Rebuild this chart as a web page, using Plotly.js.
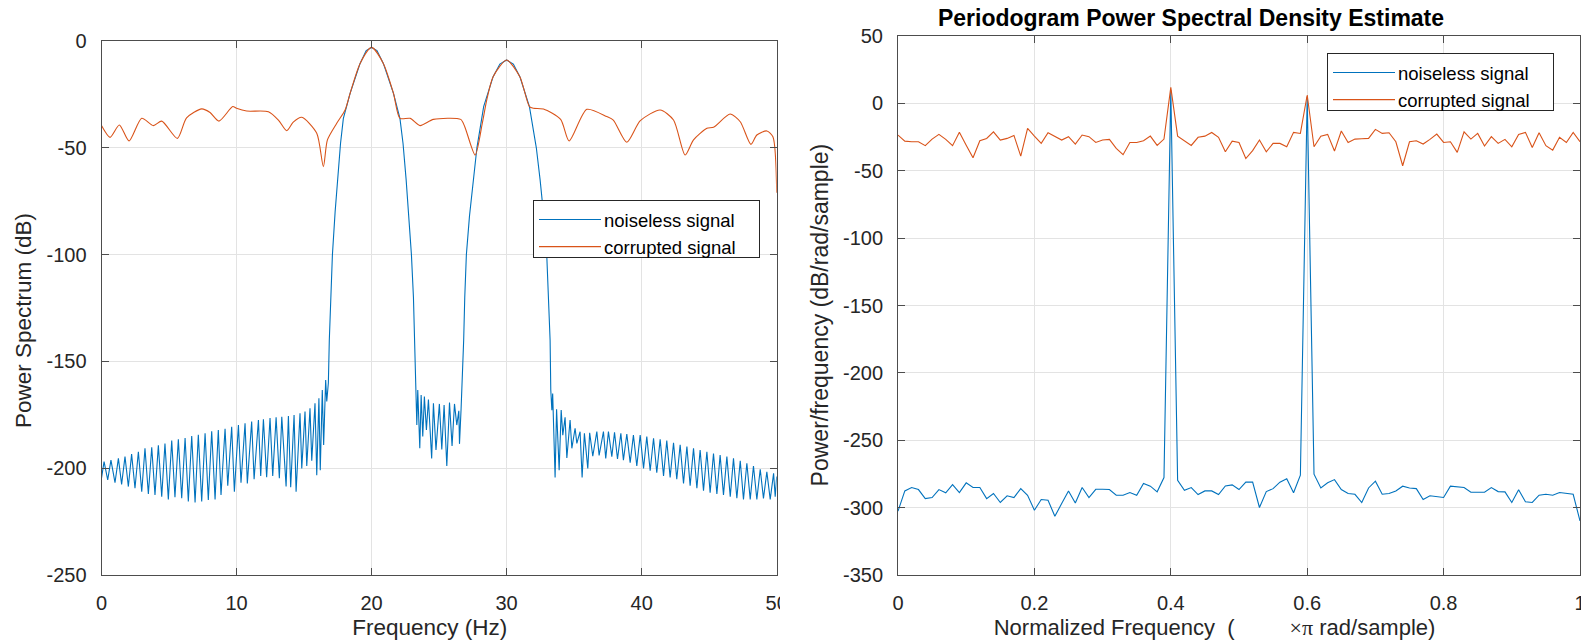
<!DOCTYPE html>
<html><head><meta charset="utf-8">
<script src="https://cdn.plot.ly/plotly-3.0.1.min.js"></script>
<style>html,body{margin:0;padding:0;background:#fff;}#chart{width:1581px;height:643px;}</style>
</head><body><div id="chart"></div>
<script>
// ---- Left panel: power spectrum (dB) vs frequency (Hz) ----
const spectrumFreqHz = [0.00,0.19,0.46,0.70,1.00,1.25,1.49,1.74,1.99,2.23,2.48,2.73,2.98,3.22,3.47,3.72,3.96,4.21,4.46,4.70,4.95,5.20,5.44,5.69,5.94,6.19,6.43,6.68,6.93,7.17,7.42,7.67,7.91,8.16,8.41,8.65,8.85,9.15,9.35,9.64,9.84,10.14,10.33,10.63,10.80,11.12,11.30,11.62,11.79,11.99,12.23,12.48,12.68,12.93,13.17,13.35,13.67,13.84,14.01,14.26,14.41,14.70,14.83,15.07,15.20,15.44,15.57,15.81,15.94,16.10,16.20,16.35,16.45,16.60,16.68,
16.80,16.87,16.96,17.1,17.3,17.47,17.7,17.91,18.41,19.15,19.6,20.0,20.4,20.87,21.62,22.1,22.33,22.56,22.75,22.95,23.1,23.18,23.22,
23.35,23.42,23.57,23.67,23.79,23.91,24.06,24.21,24.45,24.58,24.77,25.02,25.20,25.37,25.57,25.77,25.96,26.14,26.31,26.46,26.51,26.63,26.70,
26.82,26.9,27.02,27.25,27.55,27.8,28.3,29.0,29.5,30.0,30.5,30.98,31.69,32.2,32.48,32.75,32.97,33.12,33.22,33.27,
33.35,33.41,33.59,33.70,33.89,34.04,34.16,34.33,34.46,34.70,34.83,35.07,35.20,35.44,35.59,35.76,36.01,36.15,36.38,36.68,36.85,37.17,37.34,37.54,37.79,37.99,38.21,38.46,38.65,38.90,39.15,39.39,39.64,39.89,40.14,40.38,40.63,40.88,41.12,41.37,41.62,41.86,42.11,42.36,42.60,42.85,43.10,43.35,43.59,43.84,44.09,44.33,44.58,44.83,45.07,45.32,45.57,45.81,46.06,46.31,46.56,46.80,47.05,47.30,47.54,47.79,48.04,48.28,48.53,48.78,49.02,49.27,49.52,49.77,49.89,50.00];
const noiselessDb = [-204.7,-196.9,-205.5,-196.2,-206.8,-195.4,-207.6,-194.6,-208.6,-193.4,-209.4,-192.3,-211.0,-190.7,-212.1,-190.2,-212.5,-189.3,-213.3,-188.4,-214.6,-187.1,-213.6,-186.5,-214.1,-185.9,-215.6,-184.9,-216.1,-184.3,-215.6,-183.7,-214.9,-182.7,-214.6,-182.1,-212.5,-181.5,-208.2,-180.6,-211.0,-179.8,-206.8,-179.0,-207.1,-178.2,-205.2,-177.4,-203.6,-177.1,-204.2,-176.5,-203.6,-176.2,-204.7,-175.9,-208.6,-175.6,-208.9,-175.1,-211.0,-174.3,-200.1,-173.5,-199.0,-172.0,-196.5,-169.6,-203.3,-167.3,-200.9,-163.4,-189.1,-158.7,-168.8,
-160,-140,-120,-100,-80,-65,-48,-36.2,-24.5,-10.5,-4.5,-3.0,-4.5,-10.5,-24.5,-36.2,-48,-65,-80,-100,-120,-140,-157.9,
-179.8,-163.4,-190.7,-165.7,-185.2,-166.5,-182.1,-167.8,-195.4,-169.6,-191.5,-169.9,-191.2,-170.4,-199.0,-169.3,-189.6,-169.9,-179.8,-173.1,-188.6,-172.0,-162.6,
-140,-120,-100,-82,-65,-50,-30.7,-16.7,-10.8,-8.9,-10.8,-16.7,-30.7,-50,-65,-82,-100,-120,-140,-163.4,
-172.8,-165.0,-204.3,-172.4,-200.9,-172.8,-184.5,-176.2,-195.2,-177.4,-190.7,-181.3,-188.4,-182.9,-204.3,-183.7,-200.1,-183.4,-194.4,-182.9,-194.0,-182.9,-195.4,-182.9,-194.6,-183.2,-195.7,-183.7,-196.2,-184.0,-197.4,-184.5,-199.0,-184.5,-200.1,-185.2,-201.2,-186.0,-202.1,-186.5,-203.6,-187.1,-204.3,-188.1,-205.2,-189.1,-207.1,-189.9,-208.2,-190.7,-209.4,-191.5,-210.5,-192.3,-211.5,-193.1,-212.1,-193.9,-212.5,-194.6,-213.3,-195.4,-214.1,-196.5,-214.6,-197.7,-214.6,-199.0,-214.6,-200.5,-214.1,-201.7,-214.6,-202.4,-213.3,-203.9];

const corruptedFreqHz = [0,0.63,1.32,2.04,2.98,3.84,4.46,5.62,6.3,7.42,8.04,8.7,9.72,10.0,10.75,12.36,13.1,13.72,14.2,14.83,15.94,16.43,16.73,17.42,18.04,18.41,19.15,20.0,20.87,21.62,22.1,22.85,23.59,24.58,26.6,26.9,27.67,28.2,28.53,29.0,30.0,30.98,31.69,31.99,32.73,34.0,34.63,35.94,37.42,37.9,38.9,39.9,41.37,42.36,43.22,43.84,44.83,45.32,46.55,47.3,48.09,48.53,49.27,49.72,50.0];
const corruptedDb = [-39.6,-45.1,-39.3,-46.8,-36.2,-39.6,-37.5,-45.6,-36.0,-31.8,-33.5,-37.5,-30.7,-31.5,-32.8,-33.1,-37.0,-42.0,-38.0,-35.7,-43.2,-58.8,-46.3,-38.5,-32.3,-24.5,-10.5,-3.0,-10.5,-24.5,-36.2,-36.2,-39.6,-36.7,-36.7,-40.1,-53.4,-38.5,-27.6,-16.7,-8.9,-16.7,-30.7,-31.5,-31.8,-36.7,-46.8,-32.0,-35.4,-37.0,-47.4,-37.3,-32.3,-37.0,-53.4,-46.3,-40.9,-40.4,-34.2,-37.8,-48.4,-44.0,-42.1,-44.8,-71.0];

// ---- Right panel: periodogram PSD (dB/rad/sample) vs normalized frequency ----
const normFreq = [0,0.01,0.02,0.03,0.04,0.05,0.06,0.07,0.08,0.09,0.10,0.11,0.12,0.13,0.14,0.15,0.16,0.17,0.18,0.19,0.20,0.21,0.22,0.23,0.24,0.25,0.26,0.27,0.28,0.29,0.30,0.31,0.32,0.33,0.34,0.35,0.36,0.37,0.38,0.39,0.40,0.41,0.42,0.43,0.44,0.45,0.46,0.47,0.48,0.49,0.50,0.51,0.52,0.53,0.54,0.55,0.56,0.57,0.58,0.59,0.60,0.61,0.62,0.63,0.64,0.65,0.66,0.67,0.68,0.69,0.70,0.71,0.72,0.73,0.74,0.75,0.76,0.77,0.78,0.79,0.80,0.81,0.82,0.83,0.84,0.85,0.86,0.87,0.88,0.89,0.90,0.91,0.92,0.93,0.94,0.95,0.96,0.97,0.98,0.99,1.00];
const psdNoiseless = [-302.6,-287.6,-285.1,-286.6,-293.3,-292.5,-286.6,-289.0,-282.9,-288.8,-281.6,-285.1,-285.1,-293.3,-289.5,-296.2,-291.2,-292.5,-285.9,-290.8,-301.9,-294.0,-294.5,-306.4,-297.0,-287.6,-296.5,-285.1,-292.5,-286.4,-286.4,-286.6,-290.8,-290.8,-288.8,-290.8,-282.1,-284.1,-288.3,-277.7,9.9,-279.7,-287.1,-285.1,-290.3,-287.6,-287.6,-290.3,-283.9,-283.1,-286.6,-281.1,-281.1,-299.9,-288.1,-285.9,-281.1,-278.6,-289.0,-275.9,4.9,-275.2,-285.4,-281.6,-279.2,-286.6,-289.5,-290.1,-296.2,-285.4,-280.4,-290.1,-289.5,-287.6,-284.1,-285.4,-285.9,-294.0,-291.2,-292.0,-292.5,-284.1,-284.6,-285.1,-288.6,-288.6,-288.6,-285.1,-288.1,-288.3,-296.2,-286.8,-295.7,-296.2,-290.8,-290.1,-290.8,-288.8,-289.5,-290.1,-309.9];
const psdCorrupted = [-23.5,-28.0,-28.5,-28.5,-31.4,-26.5,-23.0,-26.7,-31.4,-21.5,-31.0,-40.3,-27.7,-26.0,-21.1,-27.2,-26.0,-23.8,-39.1,-18.6,-24.3,-29.7,-21.8,-24.7,-27.2,-24.7,-30.2,-23.5,-24.7,-29.0,-27.2,-26.7,-33.4,-38.1,-29.0,-29.0,-27.7,-24.3,-31.2,-26.5,11.9,-24.3,-27.7,-31.2,-25.2,-24.3,-21.6,-25.2,-35.9,-28.0,-29.0,-40.9,-35.1,-27.2,-35.9,-29.7,-29.7,-32.2,-21.5,-22.3,6.2,-32.2,-24.3,-23.0,-35.4,-20.5,-29.0,-26.5,-26.3,-26.0,-19.3,-22.3,-21.8,-28.5,-46.3,-28.5,-27.7,-30.2,-26.7,-22.8,-29.0,-28.5,-36.4,-21.1,-26.5,-22.3,-31.7,-24.7,-29.7,-26.7,-32.2,-23.0,-21.5,-32.7,-21.8,-31.4,-34.7,-25.2,-29.0,-21.5,-28.5];

// ---- Tick labels ----
const leftXTicks = [0,10,20,30,40,50];
const leftXLabels = ['0','10','20','30','40','50'];
const leftYTicks = [0,-50,-100,-150,-200,-250];
const leftYLabels = ['0','-50','-100','-150','-200','-250'];
const rightXTicks = [0,0.2,0.4,0.6,0.8,1];
const rightXLabels = ['0','0.2','0.4','0.6','0.8','1'];
const rightYTicks = [50,0,-50,-100,-150,-200,-250,-300,-350];
const rightYLabels = ['50','0','-50','-100','-150','-200','-250','-300','-350'];

const seriesNames = ['noiseless signal','corrupted signal'];

const W = 1581, H = 643;
const FONT = 'Liberation Sans, Arial, Helvetica, sans-serif';
const BLUE = '#0072BD', ORANGE = '#D95319';
const TXT = '#262626';
const NB = '\u00A0';
// non-breaking spacing used to offset a title's visible text (zero-width end keeps it from being trimmed)
const pad = n => NB.repeat(n) + '\u200B';

function axisBase(extra){
  return Object.assign({
    showline:true, mirror:'ticks', linecolor:'#4d4d4d', linewidth:1,
    ticks:'inside', ticklen:7, tickwidth:1, tickcolor:'#4d4d4d',
    showgrid:true, gridcolor:'#e3e3e3', gridwidth:1, zeroline:false,
    tickmode:'array', tickfont:{family:FONT, size:20, color:TXT},
    ticklabeloverflow:'allow', automargin:false, fixedrange:true
  }, extra);
}

const traces = [
  {x:spectrumFreqHz, y:noiselessDb, type:'scatter', mode:'lines', name:seriesNames[0],
   line:{color:BLUE, width:1.1}, xaxis:'x', yaxis:'y', legend:'legend'},
  {x:corruptedFreqHz, y:corruptedDb, type:'scatter', mode:'lines', name:seriesNames[1],
   line:{color:ORANGE, width:1.1, shape:'spline', smoothing:0.7}, xaxis:'x', yaxis:'y', legend:'legend'},
  {x:normFreq, y:psdNoiseless, type:'scatter', mode:'lines', name:seriesNames[0],
   line:{color:BLUE, width:1.1}, xaxis:'x2', yaxis:'y2', legend:'legend2'},
  {x:normFreq, y:psdCorrupted, type:'scatter', mode:'lines', name:seriesNames[1],
   line:{color:ORANGE, width:1.1}, xaxis:'x2', yaxis:'y2', legend:'legend2'}
];

const legendBase = {bgcolor:'#ffffff', bordercolor:'#262626', borderwidth:1,
  font:{family:FONT, size:18.5, color:'#000'}, xanchor:'left', yanchor:'top',
  itemwidth:60, tracegroupgap:0, traceorder:'normal'};

const tf = s => ({family:FONT, size:s, color:TXT});

const layout = {
  width:W, height:H, paper_bgcolor:'#fff', plot_bgcolor:'#fff',
  margin:{l:0, r:0, t:0, b:0}, showlegend:true,
  font:{family:FONT, color:TXT},
  title:{text:'Periodogram Power Spectral Density Estimate',
    font:{family:FONT, size:23, color:'#000', weight:'bold'},
    x:1191/W, xanchor:'center', xref:'paper', y:1-18/H, yanchor:'middle', yref:'paper'},
  xaxis: axisBase({domain:[101.5/W, 776.7/W], range:[0,50], anchor:'y',
    tickvals:leftXTicks, ticktext:leftXLabels, ticklabelstandoff:10,
    title:{text:'Frequency (Hz)' + pad(3), font:tf(22.5), standoff:6}}),
  yaxis: axisBase({domain:[1-575/H, 1-41/H], range:[-250,0], anchor:'x',
    tickvals:leftYTicks, ticktext:leftYLabels, ticklabelstandoff:10,
    title:{text:'Power Spectrum (dB)' + pad(4), font:tf(22.5), standoff:8}}),
  xaxis2: axisBase({domain:[898/W, 1580/W], range:[0,1], anchor:'y2',
    tickvals:rightXTicks, ticktext:rightXLabels, ticklabelstandoff:10,
    title:{text:'Normalized Frequency' + NB + NB + '(' + NB.repeat(9) + '<span style="font-family:Liberation Serif">×π</span> rad/sample)' + pad(8),
      font:tf(22), standoff:6}}),
  yaxis2: axisBase({domain:[1-575/H, 1-36/H], range:[-350,50], anchor:'x2',
    tickvals:rightYTicks, ticktext:rightYLabels, ticklabelstandoff:10,
    title:{text:'Power/frequency (dB/rad/sample)' + pad(3), font:tf(23), standoff:7}}),
  legend: Object.assign({}, legendBase, {x:533/W, y:1-200/H}),
  legend2: Object.assign({}, legendBase, {x:1327/W, y:1-53/H}),
  shapes:[{type:'rect', xref:'paper', yref:'paper', x0:780/W, x1:800/W, y0:1-622/H, y1:1-582/H,
    fillcolor:'#ffffff', line:{width:0}, layer:'above'}]
};

Plotly.newPlot('chart', traces, layout, {displayModeBar:false, staticPlot:true}).then(gd => {
  // longer key lines and a slightly wider, tighter legend box, as in the reference
  gd.querySelectorAll('g.legend .legendlines path, g.legend2 .legendlines path')
    .forEach(p => p.setAttribute('d', 'M5,0h62'));
  gd.querySelectorAll('g.legend > rect.bg, g.legend2 > rect.bg').forEach(bg => {
    const w = parseFloat(bg.getAttribute('width')), h = parseFloat(bg.getAttribute('height'));
    bg.setAttribute('width', w + 18);
    bg.setAttribute('height', h - 9);
  });
});
</script>
</body></html>
